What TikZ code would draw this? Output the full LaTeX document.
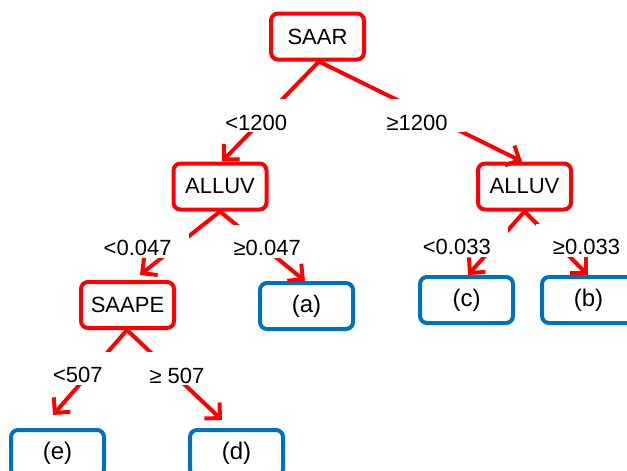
\documentclass[tikz,border=0pt]{standalone}
\usepackage{fontspec}
\setmainfont{Liberation Sans}
\usetikzlibrary{arrows.meta}
\definecolor{treered}{HTML}{FF0000}
\definecolor{leafblue}{HTML}{0070C0}
\begin{document}
\begin{tikzpicture}[x=1pt,y=-1pt,
  split/.style={draw=treered, line width=4pt, rounded corners=7pt, fill=white,
    minimum width=93pt, minimum height=46pt, inner sep=0pt, font=\fontsize{22}{24}\selectfont},
  leaf/.style={split, draw=leafblue, font=\fontsize{24}{26}\selectfont},
  conn/.style={draw=treered, line width=4pt, -{Straight Barb[length=11pt,width=22pt,line width=4pt]}},
  lbl/.style={fill=white, inner xsep=17pt, inner ysep=0pt, text height=31pt, text depth=2pt,
    yshift=6.5pt, font=\fontsize{22}{24}\selectfont, text=black}]
\useasboundingbox (0,0) rectangle (627,471);
% nodes
\node[split] (saar) at (317.5,36.5) {SAAR};
\node[split] (alluvL) at (220,186.5) {ALLUV};
\node[split] (alluvR) at (524.5,186.5) {ALLUV};
\node[split] (saape) at (127.5,305) {SAAPE};
\node[leaf] (a) at (306.5,306) {(a)};
\node[leaf] (c) at (466.5,300) {(c)};
\node[leaf] (b) at (588.5,300) {(b)};
\node[leaf] (e) at (57.5,453) {(e)};
\node[leaf] (d) at (236.5,453) {(d)};
% connectors
\draw[conn] ([xshift=1.5pt]saar.south) -- ([xshift=2pt]alluvL.north)
  node[lbl, pos=0.606, xshift=-4pt] {<1200};
\draw[conn] ([xshift=1.5pt]saar.south) -- ([xshift=-2.5pt]alluvR.north)
  node[lbl, pos=0.606, xshift=-25pt] {≥1200};
\draw[conn] (alluvL.south) -- ([xshift=12.5pt,yshift=5pt]saape.north)
  node[lbl, pos=0.567, xshift=-37pt] {<0.047};
\draw[conn] (alluvL.south) -- ([xshift=-1.5pt]a.north)
  node[lbl, pos=0.52, xshift=3pt] {≥0.047};
\draw[conn] ([xshift=-0.5pt]saape.south) -- ([xshift=-4.5pt,yshift=13pt]e.north)
  node[lbl, pos=0.528, xshift=-10pt] {<507};
\draw[conn] ([xshift=-0.5pt]saape.south) -- ([xshift=-14.5pt,yshift=8pt]d.north)
  node[lbl, pos=0.5, xshift=2.5pt] {≥ 507};
\draw[conn] (alluvR.south) -- ([xshift=1.5pt]c.north)
  node[lbl, pos=0.552, xshift=-36.5pt] {<0.033};
\draw[conn] (alluvR.south) -- ([xshift=-0.5pt]b.north)
  node[lbl, pos=0.552, xshift=27pt] {≥0.033};
\end{tikzpicture}
\end{document}
